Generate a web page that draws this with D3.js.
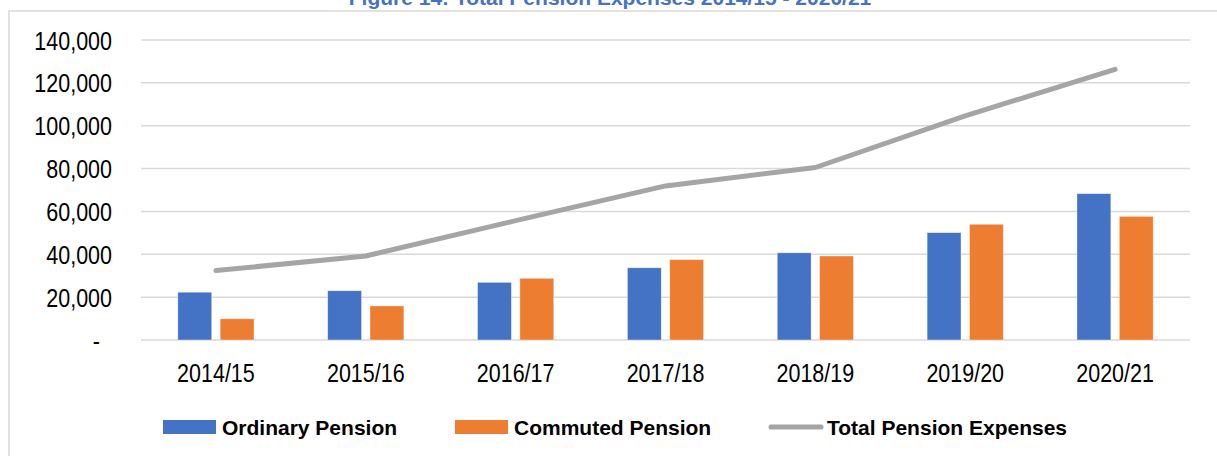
<!DOCTYPE html>
<html>
<head>
<meta charset="utf-8">
<script src="https://cdn.jsdelivr.net/npm/d3@7"></script>
<style>
  body { margin: 0; background: #fff; }
  svg { display: block; font-family: "Liberation Sans", Arial, sans-serif; }
</style>
</head>
<body>
<div id="chart"></div>
<script>
// data
var years = ["2014/15", "2015/16", "2016/17", "2017/18", "2018/19", "2019/20", "2020/21"];
var ordinary = [22300, 23000, 26900, 33700, 40700, 50100, 68300];
var commuted = [9900, 15900, 28800, 37500, 39200, 54000, 57700];
var total = [32400, 39200, 55700, 71900, 80500, 104600, 126300];
var yTicks = [0, 20000, 40000, 60000, 80000, 100000, 120000, 140000];
var seriesNames = ["Ordinary Pension", "Commuted Pension", "Total Pension Expenses"];
var colors = ["#4472C4", "#ED7D31", "#A5A5A5"];

var width = 1217, height = 456;
var margin = {top: 40, right: 27, bottom: 116, left: 141};

var svg = d3.select("#chart")
  .append("svg")
  .attr("width", width)
  .attr("height", height);

// outer frame of the chart area
svg.append("rect")
  .attr("x", 9).attr("y", 11)
  .attr("width", width + 20).attr("height", height + 20)
  .attr("fill", "none")
  .attr("stroke", "#D9D9D9")
  .attr("stroke-width", 1.5);

// title, mostly cut off by the top of the picture as in the reference
svg.append("text")
  .attr("x", 610).attr("y", 5)
  .attr("text-anchor", "middle")
  .attr("fill", "#4472C4")
  .style("font-weight", "bold")
  .style("font-size", "21px")
  .text("Figure 14: Total Pension Expenses 2014/15 - 2020/21");

var x0 = d3.scaleBand()
  .domain(years)
  .range([margin.left, width - margin.right])
  .padding(0);

var x1 = d3.scaleBand()
  .domain([0, 1])
  .range([0, x0.bandwidth()])
  .paddingInner(0.2)
  .paddingOuter(0.87);

var y = d3.scaleLinear()
  .domain([0, 140000])
  .range([height - margin.bottom, margin.top]);

// gridlines
svg.append("g")
  .selectAll("line")
  .data(yTicks)
  .enter()
  .append("line")
  .attr("x1", margin.left)
  .attr("x2", width - margin.right)
  .attr("y1", d => y(d))
  .attr("y2", d => y(d))
  .attr("stroke", "#D9D9D9")
  .attr("stroke-width", 1.5);

// Y axis labels (tall, a bit narrow like the reference)
var yAxis = svg.append("g")
  .attr("transform", "translate(" + (margin.left - 29) + ",0)")
  .call(d3.axisLeft(y).tickValues(yTicks).tickSize(0)
    .tickFormat(d => d === 0 ? "-" : d3.format(",")(d)));
yAxis.select(".domain").remove();
yAxis.selectAll("text")
  .attr("fill", "#000")
  .attr("x", d => d === 0 ? -14 : 0)
  .attr("dy", "0.36em")
  .attr("transform", "scale(0.86,1)")
  .style("font-size", "25px");

// X axis labels
var xAxis = svg.append("g")
  .attr("transform", "translate(0," + (height - margin.bottom) + ")")
  .call(d3.axisBottom(x0).tickSize(0));
xAxis.select(".domain").remove();
xAxis.selectAll("text")
  .attr("fill", "#000")
  .attr("y", 42)
  .attr("dy", 0)
  .attr("transform", "scale(0.86,1)")
  .style("font-size", "25px");

// bars
var barData = [ordinary, commuted];
barData.forEach(function(vals, s) {
  svg.append("g")
    .selectAll("rect")
    .data(vals)
    .enter()
    .append("rect")
    .attr("x", (d, i) => x0(years[i]) + x1(s))
    .attr("y", d => y(d))
    .attr("width", x1.bandwidth())
    .attr("height", d => y(0) - y(d))
    .attr("fill", colors[s])
    .attr("stroke", "#fff")
    .attr("stroke-opacity", 0.5)
    .attr("stroke-width", 0.75);
});

// total line
var line = d3.line()
  .x((d, i) => x0(years[i]) + x0.bandwidth() / 2)
  .y(d => y(d));

svg.append("path")
  .datum(total)
  .attr("d", line)
  .attr("fill", "none")
  .attr("stroke", colors[2])
  .attr("stroke-width", 5)
  .attr("stroke-linecap", "round")
  .attr("stroke-linejoin", "round");

// legend
var legendX = [163, 455, 768];
var legend = svg.append("g");
seriesNames.forEach(function(name, i) {
  if (i < 2) {
    legend.append("rect")
      .attr("x", legendX[i]).attr("y", 420)
      .attr("width", 53).attr("height", 14)
      .attr("fill", colors[i]);
  } else {
    legend.append("line")
      .attr("x1", legendX[i] + 3).attr("x2", legendX[i] + 53)
      .attr("y1", 427).attr("y2", 427)
      .attr("stroke", colors[i])
      .attr("stroke-width", 5)
      .attr("stroke-linecap", "round");
  }
  legend.append("text")
    .attr("x", legendX[i] + 59)
    .attr("y", 435)
    .attr("fill", "#000")
    .style("font-size", "21px")
    .style("font-weight", "bold")
    .text(name);
});
</script>
</body>
</html>
